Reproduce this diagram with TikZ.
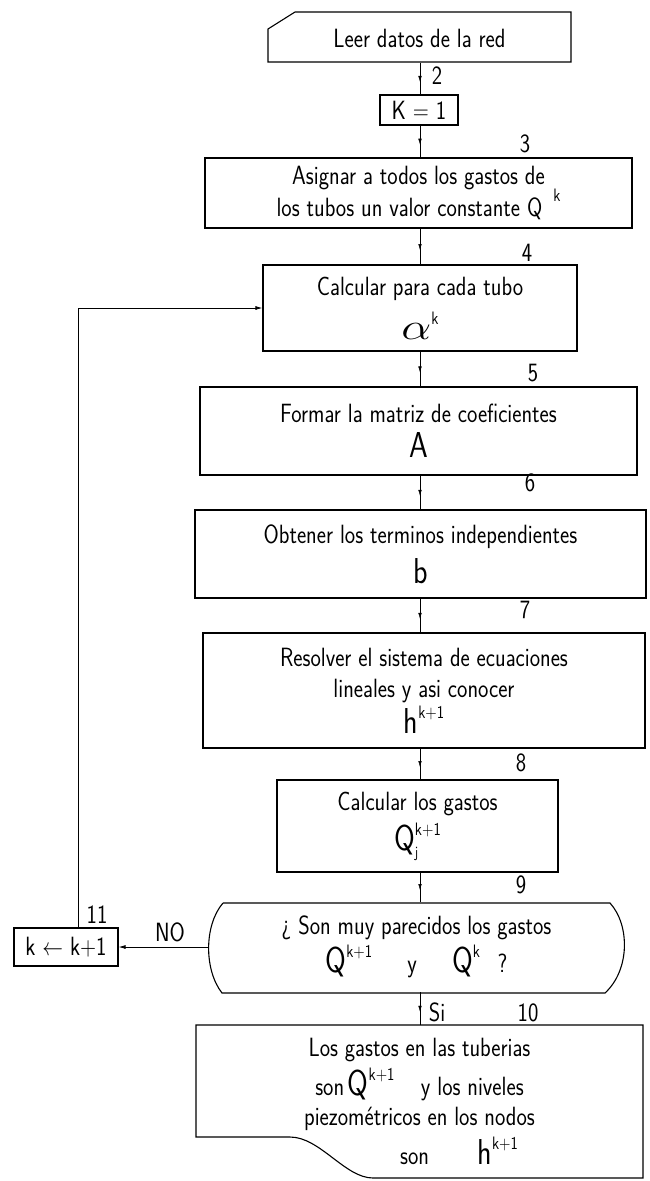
\documentclass[tikz,border=0pt]{standalone}
\usepackage{fontspec}
\usepackage{graphicx}
\usetikzlibrary{arrows.meta,decorations.markings,calc}
\newcommand{\ys}[1]{\scalebox{1}[1.2]{#1}}
% big symbol with small superscript
\newcommand{\bs}[1]{{\fontsize{30}{30}\selectfont\ys{\textsf{#1}}}}
\newcommand{\sps}[1]{\raisebox{15pt}{\fontsize{15}{15}\selectfont\ys{#1}}}
\begin{document}
\begin{tikzpicture}[x=1pt,y=-1pt,
  font=\fontsize{22}{26}\selectfont\sffamily,
  box/.style={draw,line width=1.1pt,inner sep=2pt,align=center},
  plain/.style={inner sep=2pt,align=center},
  conn/.style={line width=0.45pt,postaction={decorate},
    decoration={markings,mark=at position 0.6 with {\arrow{Latex[length=6pt,width=3.5pt]}}}},
  lab/.style={inner sep=0pt},
  edge/.style={line width=0.8pt,-{Latex[length=7pt,width=4pt]}}]
\useasboundingbox (0,0) rectangle (650,1181);
\coordinate (ax) at (420,0);

% 1 read
\node[plain,minimum width=303pt,minimum height=50pt] (read) at (419.5,38) {\ys{Leer datos de la red}};
\draw[line width=1.1pt] (268,29) -- (295,12) -- (571,12) -- (571,62) -- (268,62) -- cycle;

% 2
\node[box,minimum width=78pt,minimum height=30pt] (k1) at (419,110) {\ys{K = 1}};

% 3
\node[box,minimum width=427pt,minimum height=70pt] (b3) at (418.5,193)
  {\ys{Asignar a todos los gastos de}\\[-1pt]\ys{los tubos un valor constante Q}\hspace{0.5em}\sps{k}};

% 4
\node[box,minimum width=314pt,minimum height=86pt] (b4) at (420,308)
  {\ys{Calcular para cada tubo}\\[10pt]\resizebox{30pt}{16pt}{$\alpha$}\sps{k}};

% 5
\node[box,minimum width=437pt,minimum height=88pt] (b5) at (418.5,431)
  {\ys{Formar la matriz de coeficientes}\\[9pt]\bs{A}};

% 6
\node[box,minimum width=451pt,minimum height=88pt] (b6) at (420.5,554)
  {\ys{Obtener los terminos independientes}\\[9pt]\bs{b}};

% 7
\node[box,minimum width=442pt,minimum height=115pt] (b7) at (424,690.5)
  {\ys{Resolver el sistema de ecuaciones}\\[5pt]\ys{lineales y asi conocer}\\[2pt]\bs{h}\sps{k+1}};

% 8
\node[box,minimum width=281pt,minimum height=92pt] (b8) at (417.5,826)
  {\ys{Calcular los gastos}\\[6pt]\bs{Q}\rlap{\raisebox{-7pt}{\fontsize{13}{13}\selectfont\ys{j}}}\sps{k+1}};

% 9 decision
\node[plain,minimum width=417pt,minimum height=90pt] (b9) at (416.5,947)
  {\ys{¿ Son muy parecidos los gastos}\\[4pt]\bs{Q}\sps{k+1}\hspace{1.6em}\ys{y}\hspace{1.6em}\bs{Q}\sps{k}\hspace{0.8em}\ys{?}};
\draw[line width=1.1pt] (223,903) -- (610,903) .. controls (630,925) and (630,970) .. (605,993)
  -- (222,993) .. controls (204,970) and (204,925) .. (223,903);

% 10 result
\node[plain,minimum width=447pt,minimum height=153pt] (b10) at (419.5,1101.5)
  {\ys{Los gastos en las tuberias}\\[5pt]
   \ys{son}\,\bs{Q}\sps{k+1}\hspace{1.2em}\ys{y los niveles}\\[4pt]
   \ys{piezométricos en los nodos}\\[5pt]
   \hspace*{3.6em}\ys{son}\hspace{2.2em}\bs{h}\sps{k+1}};
\draw[line width=1.1pt] (196,1137) -- (196,1025) -- (643,1025) -- (643,1178) -- (373,1178)
  .. controls (345,1178) and (320,1137) .. (290,1137) -- cycle;

% 11
\node[box,minimum width=104pt,minimum height=38pt] (b11) at (66,947) {\ys{k $\leftarrow$ k+1}};

% connectors
\draw[conn] (read.south -| ax) -- (k1.north -| ax);
\draw[conn] (k1.south -| ax) -- (b3.north -| ax);
\draw[conn] (b3.south -| ax) -- (b4.north -| ax);
\draw[conn] (b4.south -| ax) -- (b5.north -| ax);
\draw[conn] (b5.south -| ax) -- (b6.north -| ax);
\draw[conn] (b6.south -| ax) -- (b7.north -| ax);
\draw[conn] (b7.south -| ax) -- (b8.north -| ax);
\draw[conn] (b8.south -| ax) -- (b9.north -| ax);
\draw[conn] (b9.south -| ax) -- (b10.north -| ax);
\draw[edge] (b9.west) -- (b11.east);
\draw[edge] ([xshift=12pt]b11.north) -- ([xshift=12pt]b11.north |- b4.west) -- (b4.west);

% labels
\node[lab] (l2) at (437,76) {\ys{2}};
\node[lab] (l3) at (525,144) {\ys{3}};
\node[lab] (l4) at (527,253) {\ys{4}};
\node[lab] (l5) at (533,373) {\ys{5}};
\node[lab] (l6) at (530,483) {\ys{6}};
\node[lab] (l7) at (525,610) {\ys{7}};
\node[lab] (l8) at (521,763) {\ys{8}};
\node[lab] (l9) at (521,885) {\ys{9}};
\node[lab] (lsi) at (437,1012) {\ys{Si}};
\node[lab] (l10) at (528,1013) {\ys{10}};
\node[lab] (l11) at (97,915) {\ys{11}};
\node[lab] (lno) at (170,932) {\ys{NO}};
\end{tikzpicture}
\end{document}
